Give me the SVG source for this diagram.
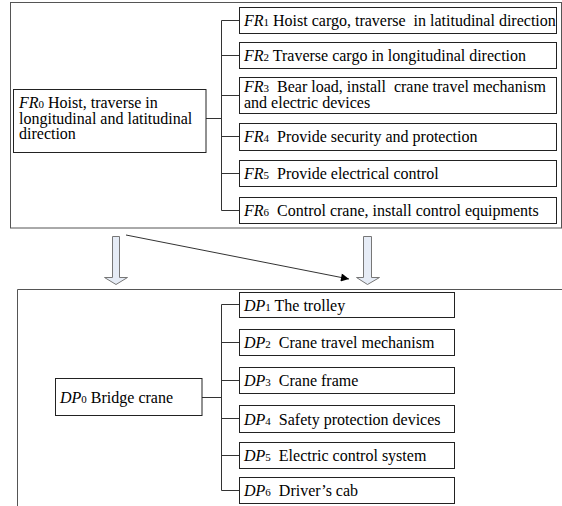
<svg xmlns="http://www.w3.org/2000/svg" width="562" height="506" viewBox="0 0 562 506">
<style>
.outer{fill:none;stroke:#555;stroke-width:1}
.box{fill:#fff;stroke:#222;stroke-width:1}
.con{fill:none;stroke:#333;stroke-width:1}
.blk{fill:#e6ecf6;stroke:#777;stroke-width:1}
</style>
<defs>
<marker id="ah" viewBox="0 0 10 10" refX="10" refY="5" markerWidth="10" markerHeight="8" markerUnits="userSpaceOnUse" orient="auto">
<path d="M0,0 L10,5 L0,10 z" fill="#000"/>
</marker>
</defs>
<rect class="outer" x="10.5" y="2.5" width="551" height="225.5"/>
<path class="outer" d="M17.5,507 V289.5 H563"/>
<g id="connectors">
<path class="con" d="M206,118.5 H221.5 M221.5,20.5 V210.5 M221.5,20.5 H239 M221.5,55.5 H239 M221.5,95.5 H239 M221.5,136.5 H239 M221.5,173.5 H239 M221.5,210.5 H239"/>
<path class="con" d="M202,397.5 H221.5 M221.5,304.5 V490.5 M221.5,304.5 H239 M221.5,342.5 H239 M221.5,380.5 H239 M221.5,418.5 H239 M221.5,455.5 H239 M221.5,490.5 H239"/>
<polygon class="blk" points="112.5,236.5 119.5,236.5 119.5,277.5 127.5,277.5 116,284.5 104.5,277.5 112.5,277.5"/>
<polygon class="blk" points="363.5,236.5 371.5,236.5 371.5,277.5 379.5,277.5 367.5,284.5 356.5,277.5 363.5,277.5"/>
<line class="con" x1="126" y1="235" x2="349" y2="279" stroke="#000" marker-end="url(#ah)"/>
</g>
<g font-family="Liberation Serif" font-size="16" fill="#000">
<g id="FR0"><rect class="box" x="13.5" y="89.5" width="192.5" height="63"/>
<text x="19" y="108"><tspan font-style="italic">FR</tspan><tspan font-size="11">0</tspan> Hoist, traverse in</text>
<text x="19" y="123.5">longitudinal and latitudinal</text>
<text x="19" y="139">direction</text></g>
<g id="FR1"><rect class="box" x="239.5" y="7.5" width="317" height="26"/>
<text x="244" y="25.5" xml:space="preserve"><tspan font-style="italic">FR</tspan><tspan font-size="11">1</tspan> Hoist cargo, traverse  in latitudinal direction</text></g>
<g id="FR2"><rect class="box" x="239.5" y="42.5" width="317" height="26"/>
<text x="244" y="60.5"><tspan font-style="italic">FR</tspan><tspan font-size="11">2</tspan> Traverse cargo in longitudinal direction</text></g>
<g id="FR3"><rect class="box" x="239.5" y="77.5" width="317" height="36"/>
<text x="244" y="92" xml:space="preserve"><tspan font-style="italic">FR</tspan><tspan font-size="11">3</tspan>  Bear load, install  crane travel mechanism</text>
<text x="244" y="107.5">and electric devices</text></g>
<g id="FR4"><rect class="box" x="239.5" y="123.5" width="317" height="27"/>
<text x="244" y="141.5" xml:space="preserve"><tspan font-style="italic">FR</tspan><tspan font-size="11">4</tspan>  Provide security and protection</text></g>
<g id="FR5"><rect class="box" x="239.5" y="160.5" width="317" height="26"/>
<text x="244" y="178.5" xml:space="preserve"><tspan font-style="italic">FR</tspan><tspan font-size="11">5</tspan>  Provide electrical control</text></g>
<g id="FR6"><rect class="box" x="239.5" y="197.5" width="317" height="26"/>
<text x="244" y="215.5" xml:space="preserve"><tspan font-style="italic">FR</tspan><tspan font-size="11">6</tspan>  Control crane, install control equipments</text></g>
<g id="DP0"><rect class="box" x="55.5" y="378.5" width="146.5" height="37"/>
<text x="60" y="402.5"><tspan font-style="italic">DP</tspan><tspan font-size="11">0</tspan> Bridge crane</text></g>
<g id="DP1"><rect class="box" x="239.5" y="292.5" width="215" height="25"/>
<text x="244" y="310.5"><tspan font-style="italic">DP</tspan><tspan font-size="11">1</tspan> The trolley</text></g>
<g id="DP2"><rect class="box" x="239.5" y="329.5" width="215" height="26"/>
<text x="244" y="348" xml:space="preserve"><tspan font-style="italic">DP</tspan><tspan font-size="11">2</tspan>  Crane travel mechanism</text></g>
<g id="DP3"><rect class="box" x="239.5" y="367.5" width="215" height="26"/>
<text x="244" y="386" xml:space="preserve"><tspan font-style="italic">DP</tspan><tspan font-size="11">3</tspan>  Crane frame</text></g>
<g id="DP4"><rect class="box" x="239.5" y="405.5" width="215" height="27"/>
<text x="244" y="424.5" xml:space="preserve"><tspan font-style="italic">DP</tspan><tspan font-size="11">4</tspan>  Safety protection devices</text></g>
<g id="DP5"><rect class="box" x="239.5" y="442.5" width="215" height="26"/>
<text x="244" y="461" xml:space="preserve"><tspan font-style="italic">DP</tspan><tspan font-size="11">5</tspan>  Electric control system</text></g>
<g id="DP6"><rect class="box" x="239.5" y="477.5" width="215" height="26"/>
<text x="244" y="496" xml:space="preserve"><tspan font-style="italic">DP</tspan><tspan font-size="11">6</tspan>  Driver’s cab</text></g>
</g>
</svg>
